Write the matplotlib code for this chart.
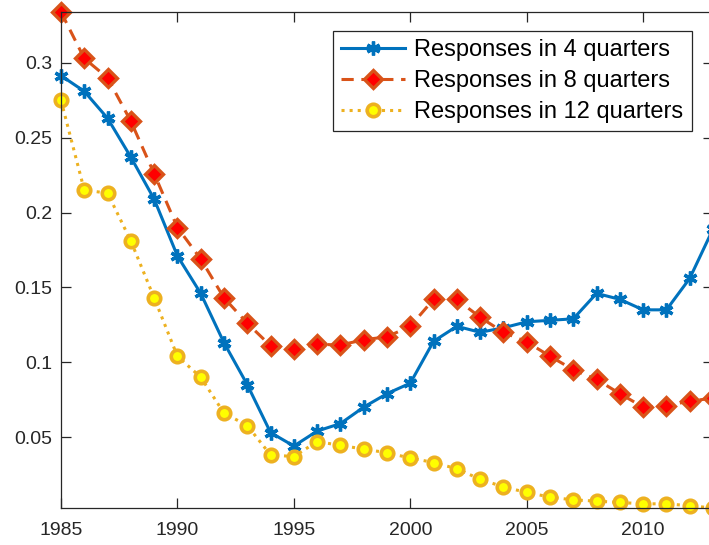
import matplotlib.pyplot as plt

plt.rcParams['font.family'] = ['Liberation Sans', 'DejaVu Sans']

# sample years
years = list(range(1985, 2014))

# responses after 4, 8 and 12 quarters
resp_4q = [0.2915, 0.281, 0.263, 0.237, 0.209, 0.171, 0.146, 0.113, 0.085, 0.053,
           0.044, 0.054, 0.059, 0.070, 0.079, 0.086, 0.114, 0.124, 0.120, 0.123,
           0.127, 0.128, 0.129, 0.146, 0.142, 0.135, 0.135, 0.156, 0.189]
resp_8q = [0.334, 0.303, 0.290, 0.261, 0.226, 0.190, 0.169, 0.143, 0.126, 0.111,
           0.109, 0.112, 0.1115, 0.115, 0.117, 0.124, 0.142, 0.142, 0.130, 0.120,
           0.1136, 0.104, 0.095, 0.0885, 0.079, 0.070, 0.071, 0.074, 0.076]
resp_12q = [0.275, 0.215, 0.213, 0.181, 0.143, 0.104, 0.090, 0.066, 0.0577, 0.038,
            0.037, 0.047, 0.0444, 0.042, 0.0395, 0.036, 0.033, 0.0288, 0.0218, 0.0167,
            0.013, 0.0099, 0.008, 0.0072, 0.0063, 0.0054, 0.0054, 0.0041, 0.0026]

labels = ['Responses in 4 quarters', 'Responses in 8 quarters', 'Responses in 12 quarters']

fig = plt.figure(figsize=(7.09, 5.45), dpi=100)
W, H = 709, 545
ax = fig.add_axes([61 / W, (H - 508) / H, (713 - 61) / W, (508 - 12) / H])

ax.plot(years, resp_4q, color='#0072BD', lw=2.2, ls='-',
        marker=(6, 2, 0), ms=10, mew=2.4, clip_on=False, label=labels[0])
ax.plot(years, resp_8q, color='#D95319', lw=2.2, ls=(0, (4, 2.5)),
        marker='D', ms=9, mfc='#FF0000', mec='#D95319', mew=2.4,
        clip_on=False, label=labels[1])
ax.plot(years, resp_12q, color='#EDB120', lw=2.2, ls=':',
        marker='o', ms=9, mfc='#FFFF00', mec='#EDB120', mew=2.6,
        clip_on=False, label=labels[2])

ax.set_xlim(1985, 2013)
ax.set_ylim(min(resp_12q), max(resp_8q))
ax.set_xticks(range(1985, 2015, 5))
ax.set_yticks([0.05, 0.1, 0.15, 0.2, 0.25, 0.3])
ax.set_yticklabels(['0.05', '0.1', '0.15', '0.2', '0.25', '0.3'])

for s in ax.spines.values():
    s.set_color('#262626')
    s.set_linewidth(0.9)
ax.tick_params(direction='in', length=7, width=0.9, colors='#262626',
               labelsize=14, top=True, right=True)
ax.tick_params(axis='x', pad=10)
ax.tick_params(axis='y', pad=6)

leg = ax.legend(loc='upper left', bbox_to_anchor=(333 / W, 1 - 31 / H),
                bbox_transform=fig.transFigure, borderaxespad=0,
                fontsize=17, handlelength=2.7, handletextpad=0.4,
                labelspacing=0.38, borderpad=0.35, numpoints=1,
                fancybox=False, framealpha=1)
leg.get_frame().set_edgecolor('#262626')
leg.get_frame().set_linewidth(0.9)

fig.savefig('out.png', dpi=100)
